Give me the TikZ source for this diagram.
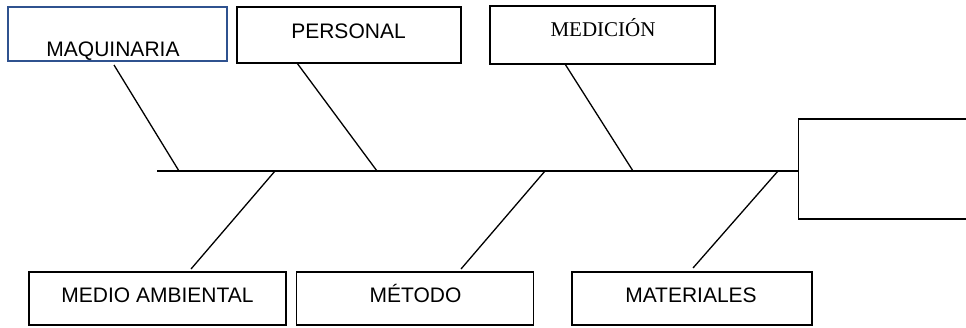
\documentclass[tikz,border=0pt]{standalone}
\usepackage{fontspec}
\setmainfont{Liberation Sans}
\newfontfamily\timesfont{Liberation Serif}
\definecolor{wordblue}{HTML}{2F528F}
\begin{document}
\begin{tikzpicture}[x=1pt,y=-1pt,
  line width=1.3pt,
  catbox/.style={draw=black, line width=1.3pt, rectangle, inner sep=0pt},
  lbl/.style={anchor=base, inner sep=0pt, font=\fontsize{21}{24}\selectfont},
  bone/.style={draw=black, line width=1.3pt}]
\useasboundingbox (0,0) rectangle (966,327);

% category boxes (top row)
\node[catbox, draw=wordblue, minimum width=219pt, minimum height=54pt] (maq) at (117.5,34) {};
\node[catbox, minimum width=224pt, minimum height=56pt] (per) at (349,35) {};
\node[catbox, minimum width=225pt, minimum height=58pt] (med) at (602.5,35) {};
% category boxes (bottom row)
\node[catbox, minimum width=257pt, minimum height=53pt] (amb) at (157.5,298.5) {};
\node[catbox, minimum width=237pt, minimum height=53pt] (met) at (415,298.5) {};
\node[catbox, minimum width=240pt, minimum height=53pt] (mat) at (692,298.5) {};
% effect box (runs off the right edge)
\node[catbox, minimum width=200pt, minimum height=100pt, anchor=west] (eff) at (798,169) {};

% labels
\node[lbl] (tmaq) at (113,56) {MAQUINARIA};
\node[lbl] (tper) at (348.5,38.3) {PERSONAL};
\node[lbl, font=\timesfont\fontsize{21}{24}\selectfont] (tmed) at (603,36) {MEDICIÓN};
\node[lbl] (tamb) at (157.5,302.7) {MEDIO AMBIENTAL};
\node[lbl] (tmet) at (415.5,302.7) {MÉTODO};
\node[lbl] (tmat) at (691,302.7) {MATERIALES};

% spine
\coordinate (tail) at (157,171);
\coordinate (head) at (eff.west |- tail);
\draw[bone] (tail) -- (head);

% points where the bones meet the spine
\coordinate (s1) at (179,171);
\coordinate (s2) at (377,171);
\coordinate (s3) at (633,171);
\coordinate (s4) at (275,171);
\coordinate (s5) at (545,171);
\coordinate (s6) at (778,171);

% free ends of the bones near the boxes
\coordinate (b1) at (114,65);
\coordinate (b2) at (297,63);
\coordinate (b3) at (565,64);
\coordinate (b4) at (191,269);
\coordinate (b5) at (461,269);
\coordinate (b6) at (693,268);

\draw[bone] (b1) -- (s1);
\draw[bone] (b2) -- (s2);
\draw[bone] (b3) -- (s3);
\draw[bone] (b4) -- (s4);
\draw[bone] (b5) -- (s5);
\draw[bone] (b6) -- (s6);
\end{tikzpicture}
\end{document}
